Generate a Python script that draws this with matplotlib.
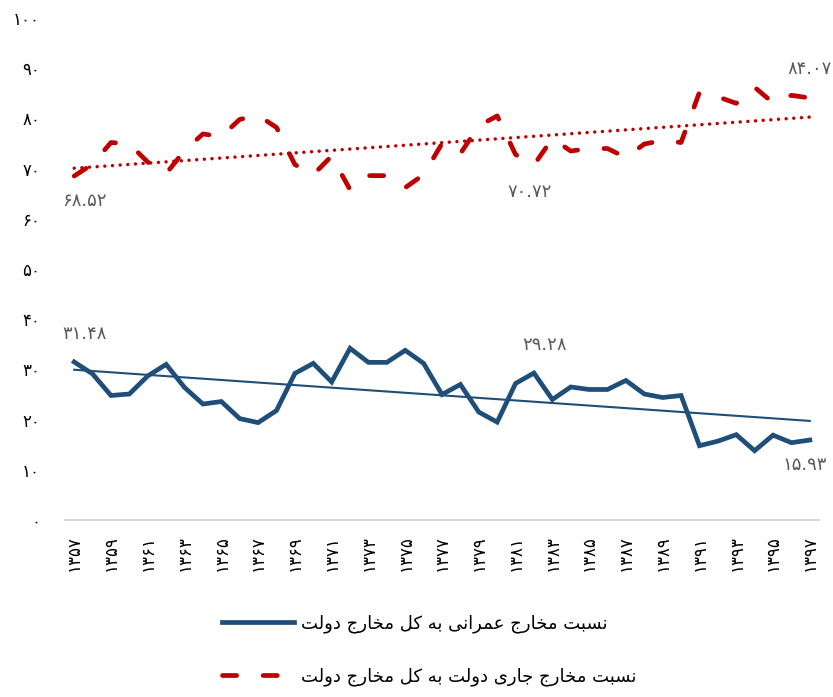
import numpy as np
import matplotlib
matplotlib.use("Agg")
import matplotlib.pyplot as plt

# données (années 1357 à 1397)
annees = list(range(1357, 1398))
part_omrani = [31.48, 29.1, 24.8, 25.1, 28.7, 31.0, 26.4, 23.1, 23.6, 20.2,
               19.4, 21.8, 29.2, 31.2, 27.5, 34.2, 31.4, 31.4, 33.8, 31.2,
               25.0, 27.0, 21.5, 19.5, 27.2, 29.28, 24.0, 26.5, 26.0, 26.0,
               27.8, 25.1, 24.4, 24.8, 14.8, 15.7, 17.0, 13.8, 16.9, 15.4, 15.93]
part_jari = [68.52, 70.9, 75.2, 74.9, 71.3, 69.0, 73.6, 76.9, 76.4, 79.8,
             80.6, 78.2, 70.8, 68.8, 72.5, 65.8, 68.6, 68.6, 66.2, 68.8,
             75.0, 73.0, 78.5, 80.5, 72.8, 70.72, 76.0, 73.5, 74.0, 74.0,
             72.2, 74.9, 75.6, 75.2, 85.2, 84.3, 83.0, 86.2, 83.1, 84.6, 84.07]
etiquettes_omrani = {0: "31.48", 25: "29.28", 40: "15.93"}
etiquettes_jari = {0: "68.52", 25: "70.72", 40: "84.07"}
legende_omrani = "نسبت مخارج عمرانی به کل مخارج دولت"
legende_jari = "نسبت مخارج جاری دولت به کل مخارج دولت"

BLEU = "#1F4E79"
ROUGE = "#C00000"

# formes de présentation arabes (isolée, finale, initiale, médiane)
FORMES = {
    'ا': ('\uFE8D', '\uFE8E', None, None),
    'ب': ('\uFE8F', '\uFE90', '\uFE91', '\uFE92'),
    'ت': ('\uFE95', '\uFE96', '\uFE97', '\uFE98'),
    'ج': ('\uFE9D', '\uFE9E', '\uFE9F', '\uFEA0'),
    'خ': ('\uFEA5', '\uFEA6', '\uFEA7', '\uFEA8'),
    'د': ('\uFEA9', '\uFEAA', None, None),
    'ر': ('\uFEAD', '\uFEAE', None, None),
    'س': ('\uFEB1', '\uFEB2', '\uFEB3', '\uFEB4'),
    'ع': ('\uFEC9', '\uFECA', '\uFECB', '\uFECC'),
    'ک': ('\uFB8E', '\uFB8F', '\uFB90', '\uFB91'),
    'ل': ('\uFEDD', '\uFEDE', '\uFEDF', '\uFEE0'),
    'م': ('\uFEE1', '\uFEE2', '\uFEE3', '\uFEE4'),
    'ن': ('\uFEE5', '\uFEE6', '\uFEE7', '\uFEE8'),
    'ه': ('\uFEE9', '\uFEEA', '\uFEEB', '\uFEEC'),
    'و': ('\uFEED', '\uFEEE', None, None),
    'ی': ('\uFEEF', '\uFEF0', '\uFEF3', '\uFEF4'),
}


def persan(texte):
    # liaison des lettres puis inversion (droite à gauche)
    sortie = []
    for i, c in enumerate(texte):
        if c not in FORMES:
            sortie.append(c)
            continue
        prec = texte[i - 1] if i > 0 else ' '
        suiv = texte[i + 1] if i + 1 < len(texte) else ' '
        lie_avant = prec in FORMES and FORMES[prec][2] is not None
        lie_apres = suiv in FORMES and FORMES[c][2] is not None
        iso, fin, ini, med = FORMES[c]
        if lie_avant and lie_apres:
            sortie.append(med)
        elif lie_avant:
            sortie.append(fin)
        elif lie_apres:
            sortie.append(ini)
        else:
            sortie.append(iso)
    return ''.join(sortie[::-1])


chiffres = str.maketrans('0123456789', '۰۱۲۳۴۵۶۷۸۹')


def fa(s):
    return str(s).translate(chiffres)


plt.rcParams['font.family'] = ['DejaVu Sans']

fig = plt.figure(figsize=(8.33, 6.97), dpi=100)
ax = fig.add_axes([65 / 833, 1 - 520 / 697, 754 / 833, 502 / 697])

x = np.arange(len(annees))

# séries principales
ax.plot(x, part_omrani, color=BLEU, linewidth=3.4, solid_joinstyle='miter',
        label=persan(legende_omrani))
ax.plot(x, part_jari, color=ROUGE, linewidth=3.4, linestyle=(0, (3.0, 5.6)),
        dash_capstyle='round', label=persan(legende_jari))

# courbes de tendance linéaires
p1 = np.polyfit(x, part_omrani, 1)
p2 = np.polyfit(x, part_jari, 1)
ax.plot(x, np.polyval(p1, x), color=BLEU, linewidth=1.5)
ax.plot(x, np.polyval(p2, x), color=ROUGE, linewidth=2.5,
        linestyle=(0, (0.01, 2.2)), dash_capstyle='round')

# étiquettes de valeurs
decal_omrani = {0: (10, 28), 25: (11, 28), 40: (-5, -25)}
decal_jari = {0: (10, -25), 25: (-4, -27), 40: (0, 29)}
for i, t in etiquettes_omrani.items():
    ax.annotate(fa(t), (x[i], part_omrani[i]), xytext=decal_omrani[i],
                textcoords='offset pixels', ha='center', va='center',
                fontsize=13, color='#595959')
for i, t in etiquettes_jari.items():
    ax.annotate(fa(t), (x[i], part_jari[i]), xytext=decal_jari[i],
                textcoords='offset pixels', ha='center', va='center',
                fontsize=13, color='#595959')

# axes
ax.set_xlim(-0.5, len(annees) - 0.5)
ax.set_ylim(0, 100)
ax.set_yticks(range(0, 101, 10))
ax.set_yticklabels([fa(v) for v in range(0, 101, 10)])
ax.set_xticks(x[::2])
ax.set_xticklabels([fa(a) for a in annees[::2]], rotation=90)
ax.tick_params(axis='y', length=0, pad=18, labelsize=12)
ax.tick_params(axis='x', length=0, pad=11, labelsize=12)
for s in ['top', 'right', 'left']:
    ax.spines[s].set_visible(False)
ax.spines['bottom'].set_color('#D9D9D9')
ax.spines['bottom'].set_linewidth(1.5)

# légende sous le graphique
fig.legend(loc='center left', bbox_to_anchor=(222 / 833, 1 - 650 / 697),
           frameon=False, fontsize=13, handlelength=4, handletextpad=0.4,
           labelspacing=1.9, borderpad=0, borderaxespad=0)

fig.savefig("out.png", dpi=100)
